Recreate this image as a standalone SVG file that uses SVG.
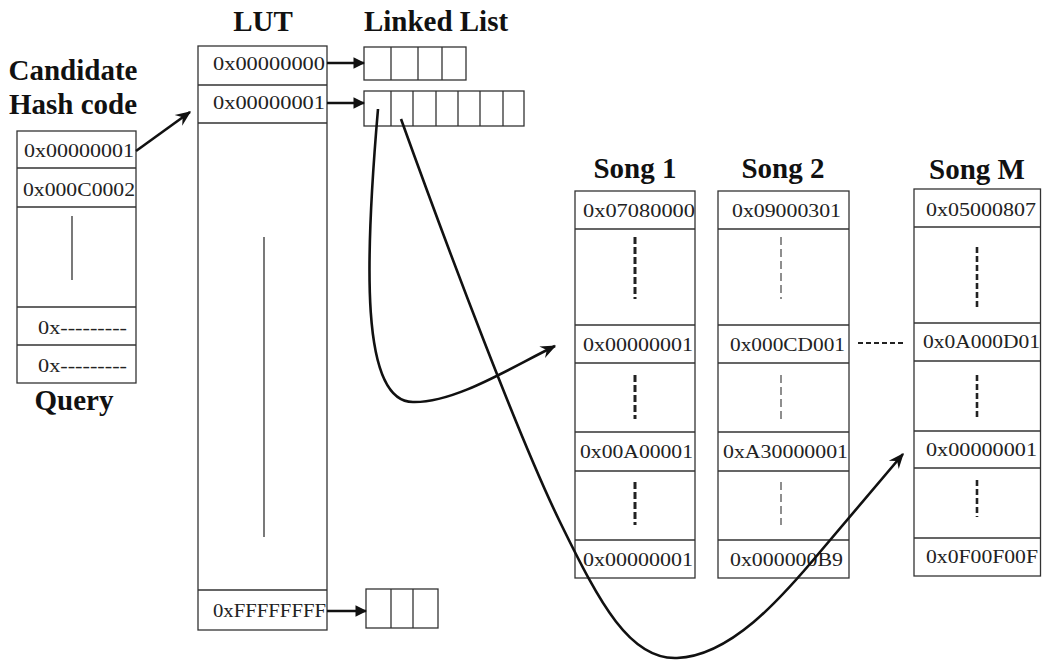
<svg xmlns="http://www.w3.org/2000/svg" width="1042" height="663" viewBox="0 0 1042 663">
<defs>
<style>
.box{fill:#fff;stroke:#333;stroke-width:1.3}
.ln{stroke:#333;stroke-width:1.3;fill:none}
.t{font-family:"Liberation Serif","Times New Roman",serif;font-size:18px;fill:#222}
.h{font-family:"Liberation Serif","Times New Roman",serif;font-size:29px;font-weight:bold;fill:#111;text-anchor:middle}
.con{stroke:#111;stroke-width:2.6;fill:none}
.d1{stroke:#222;stroke-width:3;stroke-dasharray:7 3;fill:none}
.d2{stroke:#444;stroke-width:1.2;stroke-dasharray:8 4;fill:none}
.d3{stroke:#222;stroke-width:2.6;stroke-dasharray:6 3;fill:none}
</style>
<marker id="ah" viewBox="0 0 10 10" refX="9" refY="5" markerWidth="4.5" markerHeight="4.5" orient="auto" markerUnits="strokeWidth">
<path d="M0,0 L10,5 L0,10 z" fill="#111"/>
</marker>
<marker id="ao" viewBox="0 0 12 12" refX="11" refY="6" markerWidth="6" markerHeight="6" orient="auto" markerUnits="strokeWidth">
<path d="M0,1 L12,6 L0,11 L4,6 z" fill="#111"/>
</marker>
</defs>
<rect width="1042" height="663" fill="#fff"/>

<g id="titles">
<text class="h" x="73" y="80">Candidate</text>
<text class="h" x="73" y="114">Hash code</text>
<text class="h" x="74" y="410">Query</text>
<text class="h" x="263" y="31">LUT</text>
<text class="h" x="436" y="31">Linked List</text>
<text class="h" x="635" y="178">Song 1</text>
<text class="h" x="783" y="178">Song 2</text>
<text class="h" x="977" y="179">Song M</text>
</g>

<g id="query">
<rect class="box" x="17" y="131" width="119" height="252"/>
<path class="ln" d="M17,168H136M17,207H136M17,307H136M17,345H136M72,216V280"/>
<text class="t" x="24" y="157" textLength="110" lengthAdjust="spacingAndGlyphs">0x00000001</text>
<text class="t" x="23" y="196" textLength="112" lengthAdjust="spacingAndGlyphs">0x000C0002</text>
<text class="t" x="38" y="334" textLength="89" lengthAdjust="spacingAndGlyphs">0x---------</text>
<text class="t" x="38" y="372" textLength="89" lengthAdjust="spacingAndGlyphs">0x---------</text>
</g>

<g id="lut">
<rect class="box" x="198" y="46" width="129" height="584"/>
<path class="ln" d="M198,85H327M198,123H327M198,590H327M264,237V537"/>
<text class="t" x="213" y="70" textLength="112" lengthAdjust="spacingAndGlyphs">0x00000000</text>
<text class="t" x="213" y="109" textLength="112" lengthAdjust="spacingAndGlyphs">0x00000001</text>
<text class="t" x="213" y="617" textLength="113" lengthAdjust="spacingAndGlyphs">0xFFFFFFFF</text>
</g>

<g id="list1">
<rect class="box" x="364" y="47" width="102" height="33"/>
<path class="ln" d="M391,47V80M418,47V80M442,47V80"/>
</g>
<g id="list2">
<rect class="box" x="364" y="91" width="160" height="35"/>
<path class="ln" d="M391,91V126M413,91V126M436,91V126M458,91V126M480,91V126M503,91V126"/>
</g>
<g id="list3">
<rect class="box" x="366" y="589" width="72" height="39"/>
<path class="ln" d="M391,589V628M413,589V628"/>
</g>

<g id="song1">
<rect class="box" x="575" y="191" width="120" height="387"/>
<path class="ln" d="M575,229H695M575,325H695M575,363H695M575,432H695M575,471H695M575,540H695"/>
<path class="d1" d="M635,237V299M635,375V419M635,482V525"/>
<text class="t" x="583" y="217" textLength="112" lengthAdjust="spacingAndGlyphs">0x07080000</text>
<text class="t" x="583" y="351" textLength="110" lengthAdjust="spacingAndGlyphs">0x00000001</text>
<text class="t" x="580" y="458" textLength="113" lengthAdjust="spacingAndGlyphs">0x00A00001</text>
<text class="t" x="583" y="566" textLength="110" lengthAdjust="spacingAndGlyphs">0x00000001</text>
</g>

<g id="song2">
<rect class="box" x="718" y="191" width="131" height="387"/>
<path class="ln" d="M718,229H849M718,325H849M718,363H849M718,432H849M718,471H849M718,540H849"/>
<path class="d2" d="M781,237V299M781,375V419M781,482V525"/>
<text class="t" x="732" y="217" textLength="109" lengthAdjust="spacingAndGlyphs">0x09000301</text>
<text class="t" x="730" y="351" textLength="115" lengthAdjust="spacingAndGlyphs">0x000CD001</text>
<text class="t" x="723" y="458" textLength="125" lengthAdjust="spacingAndGlyphs">0xA30000001</text>
<text class="t" x="730" y="566" textLength="113" lengthAdjust="spacingAndGlyphs">0x000000B9</text>
</g>

<g id="songM">
<rect class="box" x="914" y="189" width="126.5" height="387"/>
<path class="ln" d="M914,227H1040.5M914,323H1040.5M914,361H1040.5M914,431H1040.5M914,468H1040.5M914,538H1040.5"/>
<path class="d3" d="M977,247V309M977,375V419M977,480V517"/>
<text class="t" x="926" y="216" textLength="110" lengthAdjust="spacingAndGlyphs">0x05000807</text>
<text class="t" x="923" y="348" textLength="117" lengthAdjust="spacingAndGlyphs">0x0A000D01</text>
<text class="t" x="926" y="456" textLength="111" lengthAdjust="spacingAndGlyphs">0x00000001</text>
<text class="t" x="926" y="563" textLength="112" lengthAdjust="spacingAndGlyphs">0x0F00F00F</text>
</g>

<g id="connectors">
<path class="con" d="M136,151 L190,112" marker-end="url(#ao)"/>
<path class="con" stroke-width="3" d="M327,63 H364" marker-end="url(#ah)"/>
<path class="con" stroke-width="3" d="M327,103 H364" marker-end="url(#ah)"/>
<path class="con" stroke-width="3" d="M327,611 H366" marker-end="url(#ah)"/>
<path class="con" d="M378,109 C365,260 360,402 413,402 C455,403 510,368 555,346" marker-end="url(#ao)"/>
<path class="con" d="M401,119 C450,255 520,440 560,522 S630,660 677,658 C730,656 780,600 820,552 L903,454" marker-end="url(#ao)"/>
<path d="M858,343 H904" stroke="#222" stroke-width="2" stroke-dasharray="5 3"/>
</g>
</svg>
